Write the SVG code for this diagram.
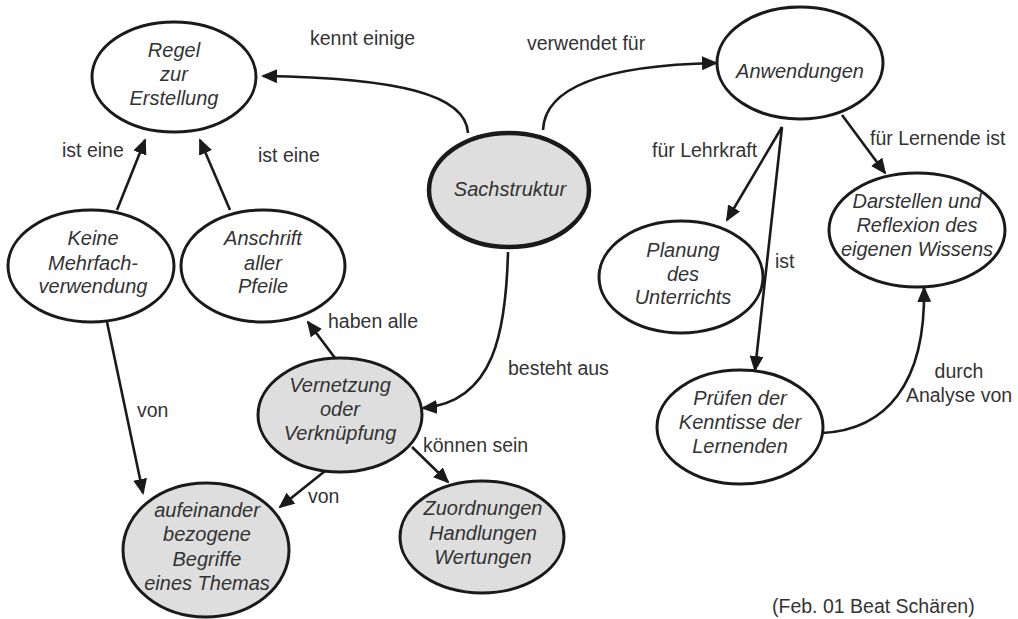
<svg xmlns="http://www.w3.org/2000/svg" width="1018" height="619" viewBox="0 0 1018 619">
<style>
.n{fill:#fff;stroke:#1a1a1a;stroke-width:3}
.g{fill:#dedede}
.thick{stroke-width:4.5}
.t{font-family:"Liberation Sans",Arial,sans-serif;font-size:20px;font-style:italic;fill:#333;text-anchor:middle}
.l{font-family:"Liberation Sans",Arial,sans-serif;font-size:19.5px;fill:#333}
.e{fill:none;stroke:#1a1a1a;stroke-width:2.6;marker-end:url(#ah)}
</style>
<defs>
<marker id="ah" markerUnits="userSpaceOnUse" markerWidth="16" markerHeight="14" refX="14" refY="7" orient="auto">
<path d="M0,0 L16,7 L0,14 z" fill="#1a1a1a"/>
</marker>
</defs>
<rect width="1018" height="619" fill="#fff"/>
<g id="connectors">
<path class="e" d="M468,133 C466,95 400,78 263,76"/>
<path class="e" d="M543,130 C545,82 620,65 716,63"/>
<path class="e" d="M842,115 L885,173"/>
<path class="e" d="M782,127 L727,220"/>
<path class="e" d="M782,127 L755,370"/>
<path class="e" d="M822,433 C885,430 926,385 924,288"/>
<path class="e" d="M117,210 L145,140"/>
<path class="e" d="M230,210 L200,140"/>
<path class="e" d="M335,358 L308,322"/>
<path class="e" d="M508,252 C506,330 495,402 423,408"/>
<path class="e" d="M412,447 L448,482"/>
<path class="e" d="M325,471 L280,507"/>
<path class="e" d="M107,322 L143,493"/>
</g>
<g id="labels">
<text class="l" x="310" y="45">kennt einige</text>
<text class="l" x="527" y="50">verwendet für</text>
<text class="l" x="870" y="145">für Lernende ist</text>
<text class="l" x="652" y="157">für Lehrkraft</text>
<text class="l" x="775" y="268">ist</text>
<text class="l" x="959" y="378" text-anchor="middle">durch</text>
<text class="l" x="959" y="402" text-anchor="middle">Analyse von</text>
<text class="l" x="62" y="157">ist eine</text>
<text class="l" x="258" y="162">ist eine</text>
<text class="l" x="328" y="328">haben alle</text>
<text class="l" x="508" y="375">besteht aus</text>
<text class="l" x="423" y="452">können sein</text>
<text class="l" x="308" y="503">von</text>
<text class="l" x="137" y="417">von</text>
<text class="l" x="772" y="613">(Feb. 01 Beat Schären)</text>
</g>
<g id="regel">
<ellipse class="n" cx="174" cy="77" rx="82" ry="55"/>
<text class="t" x="174" y="57">Regel</text>
<text class="t" x="174" y="81">zur</text>
<text class="t" x="174" y="105">Erstellung</text>
</g>
<g id="sachstruktur">
<ellipse class="n g thick" cx="509" cy="190" rx="80" ry="57"/>
<text class="t" x="510" y="196">Sachstruktur</text>
</g>
<g id="anwendungen">
<ellipse class="n" cx="800" cy="63" rx="83" ry="56"/>
<text class="t" x="800" y="78">Anwendungen</text>
</g>
<g id="darstellen">
<ellipse class="n" cx="917" cy="230" rx="88" ry="57"/>
<text class="t" x="917" y="208">Darstellen und</text>
<text class="t" x="917" y="232">Reflexion des</text>
<text class="t" x="917" y="256">eigenen Wissens</text>
</g>
<g id="planung">
<ellipse class="n" cx="681" cy="277" rx="82" ry="56"/>
<text class="t" x="683" y="257">Planung</text>
<text class="t" x="683" y="281">des</text>
<text class="t" x="683" y="304">Unterrichts</text>
</g>
<g id="pruefen">
<ellipse class="n" cx="740" cy="427" rx="83" ry="57"/>
<text class="t" x="740" y="405">Prüfen der</text>
<text class="t" x="740" y="429">Kenntisse der</text>
<text class="t" x="740" y="453">Lernenden</text>
</g>
<g id="keine">
<ellipse class="n" cx="91" cy="266" rx="83" ry="56"/>
<text class="t" x="93" y="245">Keine</text>
<text class="t" x="93" y="270">Mehrfach-</text>
<text class="t" x="93" y="293">verwendung</text>
</g>
<g id="anschrift">
<ellipse class="n" cx="263" cy="266" rx="82" ry="56"/>
<text class="t" x="263" y="245">Anschrift</text>
<text class="t" x="263" y="270">aller</text>
<text class="t" x="263" y="293">Pfeile</text>
</g>
<g id="vernetzung">
<ellipse class="n g" cx="340" cy="415" rx="82" ry="57"/>
<text class="t" x="340" y="392">Vernetzung</text>
<text class="t" x="340" y="416">oder</text>
<text class="t" x="340" y="440">Verknüpfung</text>
</g>
<g id="aufeinander">
<ellipse class="n g" cx="206" cy="550" rx="83" ry="67"/>
<text class="t" x="207" y="517">aufeinander</text>
<text class="t" x="207" y="541">bezogene</text>
<text class="t" x="207" y="566">Begriffe</text>
<text class="t" x="207" y="590">eines Themas</text>
</g>
<g id="zuordnungen">
<ellipse class="n g" cx="482" cy="537" rx="82" ry="56"/>
<text class="t" x="483" y="515">Zuordnungen</text>
<text class="t" x="483" y="540">Handlungen</text>
<text class="t" x="483" y="564">Wertungen</text>
</g>
</svg>
